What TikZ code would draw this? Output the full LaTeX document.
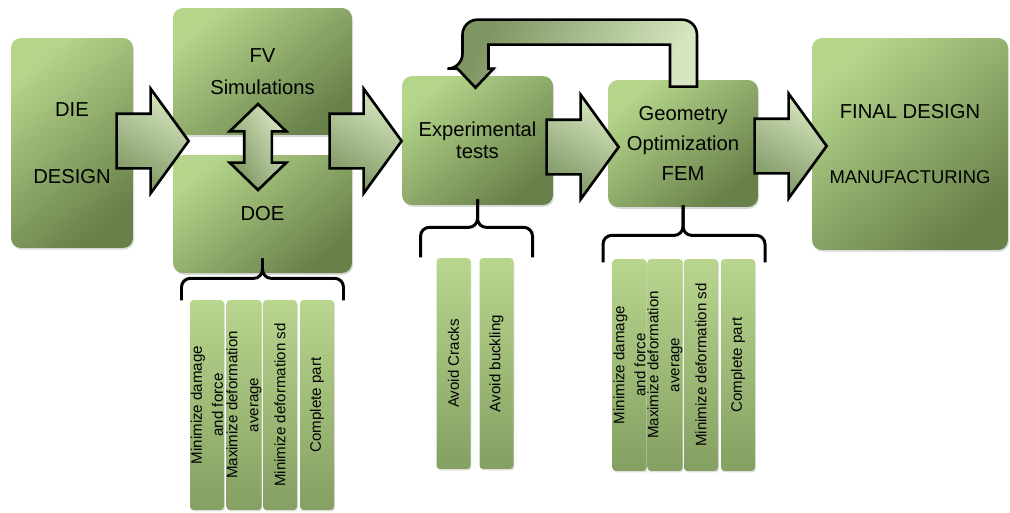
\documentclass[tikz,border=0pt]{standalone}
\usepackage{fontspec}
\setmainfont{Liberation Sans}
\usetikzlibrary{shapes.arrows,shadows,calc}

\definecolor{boxlight}{RGB}{180,213,138}
\definecolor{boxdark}{RGB}{104,128,74}
\definecolor{barlight}{RGB}{184,214,142}
\definecolor{bardark}{RGB}{132,160,98}
\definecolor{arrowlight}{RGB}{214,230,192}
\definecolor{arrowdark}{RGB}{126,150,98}

\tikzset{
  box/.style={rounded corners=0.2cm, top color=boxlight, bottom color=boxdark,
    shading angle=40, inner sep=0pt, align=center,
    drop shadow={opacity=0.3, shadow xshift=0.6pt, shadow yshift=-1pt},
    font=\fontsize{11.5}{17}\selectfont},
  bar/.style={rotate=90, rounded corners=2pt, top color=barlight, bottom color=bardark,
    inner sep=0pt, align=center, minimum height=0.68cm,
    drop shadow={opacity=0.25, shadow xshift=0.5pt, shadow yshift=-0.8pt},
    font=\fontsize{8.6}{12}\selectfont},
  blockarrow/.style={single arrow, draw=black, line width=1.5pt, anchor=tail,
    inner xsep=0pt, inner ysep=0.52cm,
    left color=arrowlight, right color=arrowdark, shading angle=-30,
    minimum height=1.44cm,
    single arrow head extend=0.5cm, single arrow tip angle=108},
  brace/.style={line width=1.7pt, rounded corners=5pt},
}

\begin{document}
\begin{tikzpicture}[x=0.02cm, y=-0.02cm]
  \useasboundingbox (0,0) rectangle (1010,512);

  % main steps
  \node[box, minimum width=2.44cm, minimum height=4.2cm] (die) at (72,143) {DIE\\[21pt]DESIGN};
  \node[box, minimum width=3.58cm, minimum height=2.54cm] (fv) at (262.5,71.5) {FV\\[1pt]Simulations};
  \node[box, minimum width=3.58cm, minimum height=2.36cm] (doe) at (262.5,214) {DOE};
  \node[box, minimum width=3.02cm, minimum height=2.58cm] (exp) at (477.5,140.5) {Experimental\\[-4.5pt]tests};
  \node[box, minimum width=3.0cm, minimum height=2.54cm] (geo) at (683,143.5) {Geometry\\Optimization\\FEM};
  \node[box, minimum width=3.92cm, minimum height=4.24cm] (final) at (910,144)
    {FINAL DESIGN\\[20pt]{\fontsize{10.5}{17}\selectfont MANUFACTURING}};

  % objectives
  \node[bar, minimum width=4.2cm] (doe1) at (207,405) {Minimize damage\\and force};
  \node[bar, minimum width=4.2cm] (doe2) at (244,405) {Maximize deformation\\average};
  \node[bar, minimum width=4.2cm] (doe3) at (280,405) {Minimize deformation sd};
  \node[bar, minimum width=4.2cm] (doe4) at (317,405) {Complete part};
  \node[bar, minimum width=4.22cm] (exp1) at (453.5,363.5) {Avoid Cracks};
  \node[bar, minimum width=4.22cm] (exp2) at (496.5,363.5) {Avoid buckling};
  \node[bar, minimum width=4.24cm] (geo1) at (629.5,365) {Minimize damage\\and force};
  \node[bar, minimum width=4.24cm] (geo2) at (665,365) {Maximize deformation\\average};
  \node[bar, minimum width=4.24cm] (geo3) at (701,365) {Minimize deformation sd};
  \node[bar, minimum width=4.24cm] (geo4) at (738,365) {Complete part};

  % brackets
  \draw[brace] ($(doe.south)+(-81,27)$) -- ++(0,-22) -- ++(81,0) -- ++(0,-20);
  \draw[brace] ($(doe.south)+(81,27)$) -- ++(0,-22) -- ++(-81,0) -- ++(0,-20);
  \draw[brace] ($(exp.south)+(-57,52)$) -- ++(0,-30) -- ++(57,0) -- ++(0,-28);
  \draw[brace] ($(exp.south)+(55,52)$) -- ++(0,-30) -- ++(-55,0) -- ++(0,-28);
  \draw[brace] ($(geo.south)+(-80,55)$) -- ++(0,-27) -- ++(80,0) -- ++(0,-30);
  \draw[brace] ($(geo.south)+(82,55)$) -- ++(0,-27) -- ++(-82,0) -- ++(0,-30);

  % flow
  \node[blockarrow] (a1) at ($(die.east)+(-18,-2)$) {};
  \node[blockarrow] (a2) at ($(fv.east |- die.east)+(-24,-2)$) {};
  \node[blockarrow] (a3) at ($(exp.east)+(-8,6.5)$) {};
  \node[blockarrow] (a4) at ($(geo.east)+(-5,2.5)$) {};
  \node[double arrow, draw=black, line width=1.5pt, inner xsep=0pt, inner ysep=0.25cm, rotate=90,
    left color=arrowlight, right color=arrowdark, shading angle=-60,
    minimum height=1.72cm,
    double arrow head extend=0.29cm, double arrow tip angle=92] (fvdoe) at (258,147) {};

  % feedback loop
  \coordinate (fbfrom) at ($(geo.north)+(0,7)$);
  \coordinate (fbto) at ($(exp.north)+(-2,12)$);
  \draw[line width=1.5pt, left color=arrowdark, right color=arrowlight, shading angle=60]
    ($(fbfrom)+(14,0)$) [rounded corners=0.3cm] -- ++(0,-67) -| ($(fbto)+(-13,-19)$)
    [sharp corners] -- ++(-5,0) -- (fbto) -- ++(18,-19) -- ++(-5,0)
    |- ($(fbfrom)+(-13,-42)$) -- ++(0,42) -- cycle;
\end{tikzpicture}
\end{document}
